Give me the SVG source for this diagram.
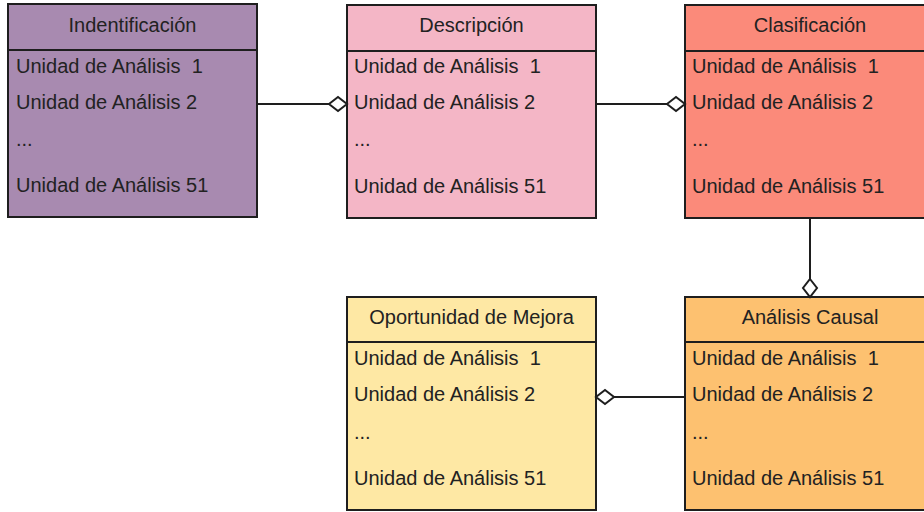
<svg xmlns="http://www.w3.org/2000/svg" width="924" height="512" viewBox="0 0 924 512">
<style>
  .box { stroke: #1e1e1e; stroke-width: 2; }
  .div { stroke: #1e1e1e; stroke-width: 2; }
  .t { font-family: "Liberation Sans", Arial, sans-serif; font-size: 20px; fill: #222; white-space: pre; }
  .h { text-anchor: middle; }
  .conn { stroke: #1e1e1e; stroke-width: 2; fill: none; marker-end: url(#dia); }
</style>
<defs>
  <marker id="dia" markerUnits="userSpaceOnUse" markerWidth="21" markerHeight="19" viewBox="-1 -1 21 19" refX="18" refY="8" orient="auto">
    <path d="M0,8 L9,1 L18,8 L9,15 Z" fill="#fff" stroke="#1e1e1e" stroke-width="2"/>
  </marker>
</defs>
<rect width="924" height="512" fill="#fff"/>

<g id="identificacion">
  <rect class="box" x="8" y="4" width="249" height="213" fill="#a88ab0"/>
  <line class="div" x1="8" y1="50" x2="257" y2="50"/>
  <text class="t h" x="132.5" y="32">Indentificación</text>
  <text class="t" x="16" y="73" xml:space="preserve">Unidad de Análisis  1</text>
  <text class="t" x="16" y="109">Unidad de Análisis 2</text>
  <text class="t" x="16" y="146">...</text>
  <text class="t" x="16" y="192">Unidad de Análisis 51</text>
</g>

<g id="descripcion">
  <rect class="box" x="347" y="5" width="249" height="213" fill="#f4b6c6"/>
  <line class="div" x1="347" y1="51" x2="596" y2="51"/>
  <text class="t h" x="471.5" y="32">Descripción</text>
  <text class="t" x="354" y="73" xml:space="preserve">Unidad de Análisis  1</text>
  <text class="t" x="354" y="109">Unidad de Análisis 2</text>
  <text class="t" x="354" y="146">...</text>
  <text class="t" x="354" y="193">Unidad de Análisis 51</text>
</g>

<g id="clasificacion">
  <rect class="box" x="685" y="5" width="250" height="213" fill="#fb8a7a"/>
  <line class="div" x1="685" y1="51" x2="935" y2="51"/>
  <text class="t h" x="810" y="32">Clasificación</text>
  <text class="t" x="692" y="73" xml:space="preserve">Unidad de Análisis  1</text>
  <text class="t" x="692" y="109">Unidad de Análisis 2</text>
  <text class="t" x="692" y="146">...</text>
  <text class="t" x="692" y="193">Unidad de Análisis 51</text>
</g>

<g id="oportunidad">
  <rect class="box" x="347" y="297" width="249" height="213" fill="#fee8a4"/>
  <line class="div" x1="347" y1="342" x2="596" y2="342"/>
  <text class="t h" x="471.5" y="324">Oportunidad de Mejora</text>
  <text class="t" x="354" y="365" xml:space="preserve">Unidad de Análisis  1</text>
  <text class="t" x="354" y="401">Unidad de Análisis 2</text>
  <text class="t" x="354" y="439">...</text>
  <text class="t" x="354" y="485">Unidad de Análisis 51</text>
</g>

<g id="analisis-causal">
  <rect class="box" x="685" y="297" width="250" height="213" fill="#fdc170"/>
  <line class="div" x1="685" y1="342" x2="935" y2="342"/>
  <text class="t h" x="810" y="324">Análisis Causal</text>
  <text class="t" x="692" y="365" xml:space="preserve">Unidad de Análisis  1</text>
  <text class="t" x="692" y="401">Unidad de Análisis 2</text>
  <text class="t" x="692" y="439">...</text>
  <text class="t" x="692" y="485">Unidad de Análisis 51</text>
</g>

<g id="connectors">
  <path class="conn" d="M257,104 L347,104"/>
  <path class="conn" d="M596,104 L685,104"/>
  <path class="conn" d="M810,218 L810,297"/>
  <path class="conn" d="M685,397 L596,397"/>
</g>
</svg>
